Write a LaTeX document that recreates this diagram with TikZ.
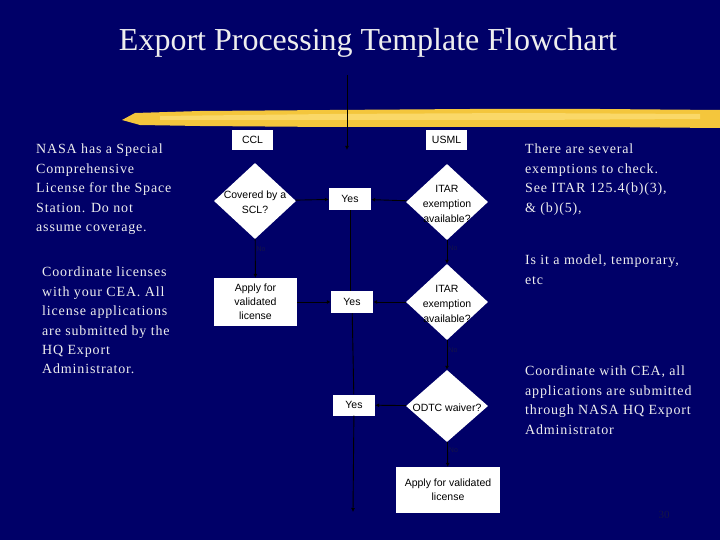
\documentclass[tikz,border=0pt]{standalone}
\usepackage{fontspec}
\setmainfont{Liberation Serif}
\newfontfamily\boxfont{Liberation Sans}
\newfontfamily\notefont[LetterSpace=6]{Liberation Serif}
\usetikzlibrary{shapes.geometric, arrows.meta, positioning}
\definecolor{slidenavy}{RGB}{0,0,104}
\definecolor{brushyellow}{RGB}{244,198,60}
\definecolor{brushlight}{RGB}{250,216,104}
\definecolor{notegray}{RGB}{238,238,238}
\definecolor{nolabel}{RGB}{20,20,70}

%% text inside a diamond, kept from growing the shape
\newcommand{\diamtext}[1]{\makebox[0pt]{\raisebox{-5pt}[0pt][0pt]{\begin{tabular}{@{}c@{}}#1\end{tabular}}}}

\tikzset{
	notetext/.style={anchor=north west, inner sep=0pt, align=left, text=notegray, font=\notefont\fontsize{14}{19.4}\selectfont},
	flowbox/.style={draw=none, fill=white, text=black, align=center, inner sep=0pt, font=\boxfont\fontsize{10.5}{14}\selectfont},
	decision/.style={diamond, fill=white, text=black, inner sep=0pt, minimum width=82pt, minimum height=76pt, font=\boxfont\fontsize{10.5}{15}\selectfont},
	nonote/.style={text=nolabel, inner sep=1pt, font=\boxfont\fontsize{7}{8}\selectfont},
	flowline/.style={draw=black, line width=0.9pt, -{Latex[length=4pt,width=4pt]}}
}

\begin{document}
\begin{tikzpicture}[x=1pt, y=-1pt]
	\fill[slidenavy] (0,0) rectangle (720,540);
	\useasboundingbox (0,0) rectangle (720,540);

	\node[text=notegray, font=\fontsize{32}{36}\selectfont] (title) at (368,43) {Export Processing Template Flowchart};

	%% brush stroke under the title
	\fill[brushyellow] (122,120) -- (135,113) -- (200,111) -- (330,110) -- (470,109) -- (600,109) -- (720,110)
		-- (720,128) -- (600,127) -- (470,127) -- (330,127) -- (200,126) -- (140,125) -- cycle;
	\fill[brushlight] (160,116) -- (330,114) -- (520,113) -- (700,114) -- (700,119) -- (520,120) -- (330,120) -- (160,120) -- cycle;

	%% notes left and right
	\node[notetext] (ssl) at (36,144) {NASA has a Special\\Comprehensive\\License for the Space\\Station.  Do not\\assume coverage.};
	\node[notetext] (cea) at (42,267) {Coordinate licenses\\with your CEA.  All\\license applications\\are submitted by the\\HQ Export\\Administrator.};
	\node[notetext] (exm) at (525,144) {There are several\\exemptions to check.\\See ITAR 125.4(b)(3),\\\& (b)(5),};
	\node[notetext] (mdl) at (525,255) {Is it a model, temporary,\\etc};
	\node[notetext] (hq) at (525,366) {Coordinate with CEA, all\\applications are submitted\\through NASA HQ Export\\Administrator};

	%% flowchart
	\coordinate (start) at (347,75);
	\coordinate (entry) at (347,150);
	\node[flowbox, minimum width=41pt, minimum height=20pt] (ccl) at (252.5,140) {CCL};
	\node[flowbox, minimum width=41pt, minimum height=20pt] (usml) at (446.5,140) {USML};
	\node[decision] (scl) at (255,201) {\diamtext{Covered by a\\SCL?}};
	\node[decision] (itarA) at (447,202) {\diamtext{ITAR\\exemption\\available?}};
	\node[flowbox, minimum width=42pt, minimum height=22pt] (yesA) at (350,199) {Yes};
	\node[flowbox, minimum width=83pt, minimum height=48pt] (applyA) at (255.5,302) {Apply for\\validated\\license};
	\node[decision] (itarB) at (447,302) {\diamtext{ITAR\\exemption\\available?}};
	\node[flowbox, minimum width=42pt, minimum height=22pt] (yesB) at (352,302) {Yes};
	\node[decision, minimum height=72pt] (odtc) at (447,406) {\diamtext{ODTC waiver?}};
	\node[flowbox, minimum width=42pt, minimum height=21pt] (yesC) at (354,405) {Yes};
	\node[flowbox, minimum width=104pt, minimum height=46pt] (applyB) at (448,490) {Apply for validated\\license};
	\coordinate (finish) at (353,512);

	\draw[flowline] (start) -- (entry);
	\draw[flowline] (scl) -- (yesA);
	\draw[flowline] (itarA) -- (yesA);
	\draw[flowline] (scl) -- node[nonote, right, pos=0.25] {No} (applyA);
	\draw[flowline] (itarA) -- node[nonote, right, pos=0.35] {No} (itarB);
	\draw[draw=black, line width=0.9pt] (yesA) -- (yesA |- yesB.north);
	\draw[flowline] (applyA) -- (yesB);
	\draw[flowline] (itarB) -- (yesB);
	\draw[flowline] (itarB) -- node[nonote, right, pos=0.35] {No} (odtc);
	\draw[draw=black, line width=0.9pt] (yesB) -- (yesC);
	\draw[flowline] (odtc) -- (yesC);
	\draw[flowline] (odtc) -- node[nonote, right, pos=0.35] {No} (applyB);
	\draw[flowline] (yesC) -- (finish);

	\node[text=nolabel, font=\fontsize{11}{12}\selectfont] (pgno) at (664,515) {30};
\end{tikzpicture}
\end{document}
